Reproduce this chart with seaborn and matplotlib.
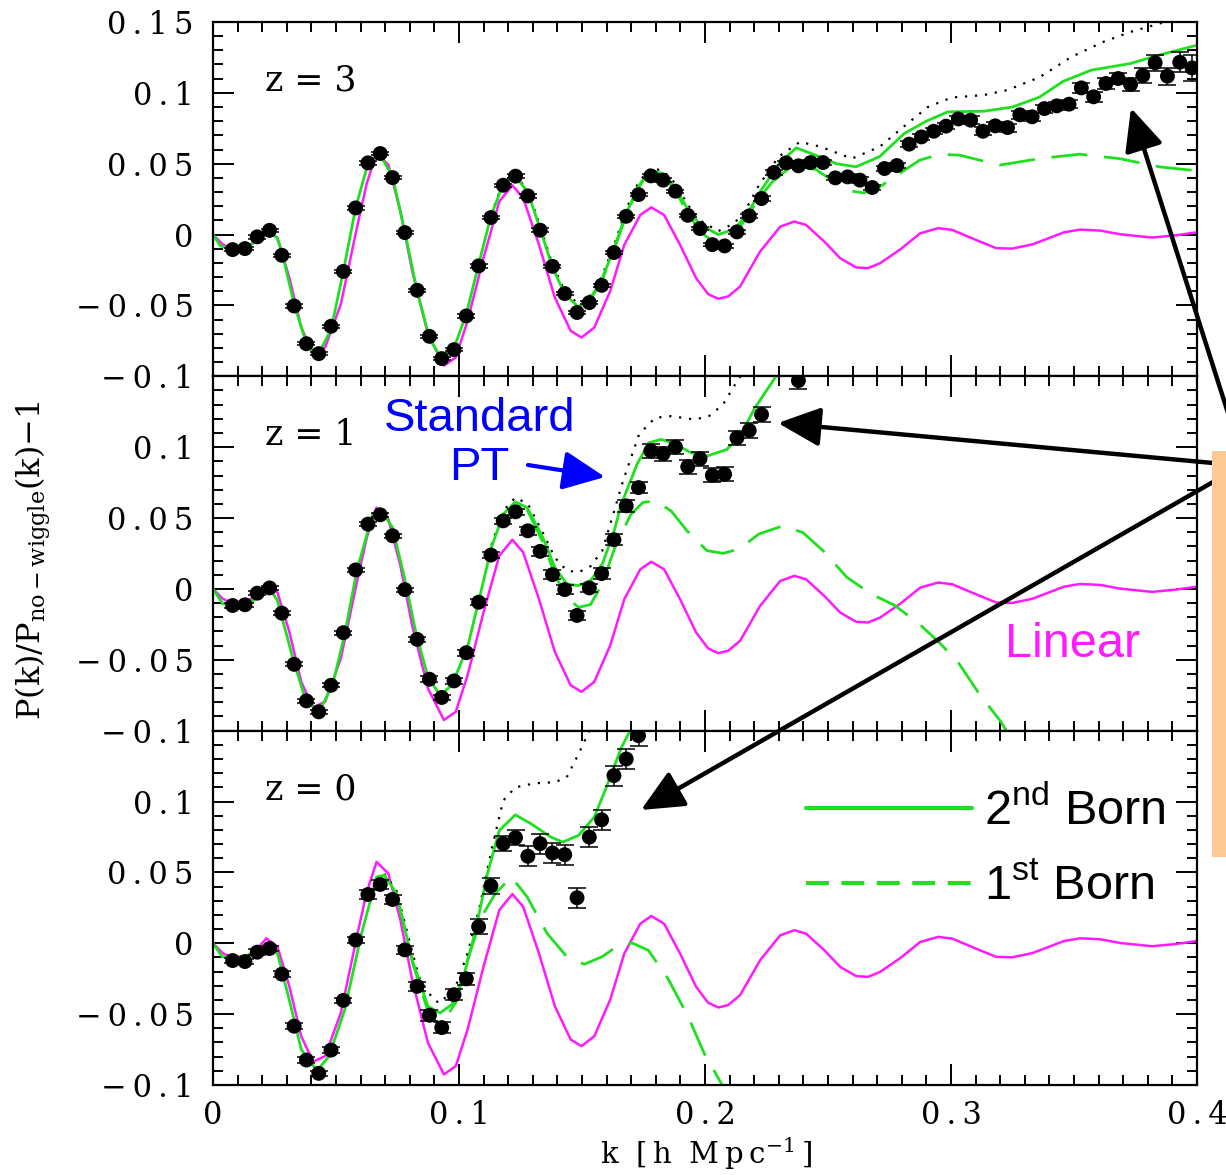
import matplotlib
matplotlib.use('Agg')
import matplotlib.pyplot as plt
from matplotlib.ticker import MultipleLocator, FuncFormatter
from matplotlib.patches import FancyArrowPatch, Rectangle
from matplotlib.lines import Line2D
import seaborn as sns

# k bins of the simulation points
k_data = [0.008, 0.013, 0.018, 0.023, 0.028, 0.033, 0.038, 0.043, 0.048, 0.053,
          0.058, 0.063, 0.068, 0.073, 0.078, 0.083, 0.088, 0.093, 0.098, 0.103,
          0.108, 0.113, 0.118, 0.123, 0.128, 0.133, 0.138, 0.143, 0.148, 0.153,
          0.158, 0.163, 0.168, 0.173, 0.178, 0.183, 0.188, 0.193, 0.198, 0.203,
          0.208, 0.213, 0.218, 0.223, 0.228, 0.233, 0.238, 0.243, 0.248, 0.253,
          0.258, 0.263, 0.268, 0.273, 0.278, 0.283, 0.288, 0.293, 0.298, 0.303,
          0.308, 0.313, 0.318, 0.323, 0.328, 0.333, 0.338, 0.343, 0.348, 0.353,
          0.358, 0.363, 0.368, 0.373, 0.378, 0.383, 0.388, 0.393, 0.398]

# z=3 points
y_z3 = [-0.0106, -0.0099, -0.0016, 0.003, -0.0146, -0.0504, -0.077, -0.084, -0.0647, -0.026,
        0.0188, 0.0506, 0.0572, 0.0402, 0.0014, -0.0393, -0.0718, -0.0875, -0.0812, -0.0574,
        -0.0221, 0.012, 0.0348, 0.0412, 0.0273, 0.0031, -0.0224, -0.0416, -0.055, -0.048,
        -0.0358, -0.0127, 0.0129, 0.0282, 0.0414, 0.0384, 0.0306, 0.0136, 0.0042, -0.0071,
        -0.008, 0.0019, 0.0132, 0.0254, 0.0438, 0.0506, 0.0485, 0.0508, 0.0508, 0.040,
        0.0407, 0.0384, 0.0332, 0.0466, 0.0487, 0.0638, 0.0689, 0.0729, 0.0765, 0.0816,
        0.0807, 0.0729, 0.0767, 0.0755, 0.0845, 0.0831, 0.0889, 0.0908, 0.092, 0.1035,
        0.0972, 0.1066, 0.1101, 0.1059, 0.1122, 0.1212, 0.1118, 0.1216, 0.1176]
e_z3 = [0.0012, 0.0012, 0.0012, 0.0012, 0.0012, 0.0012, 0.0012, 0.0012, 0.0012, 0.0012,
        0.0012, 0.0012, 0.0012, 0.0012, 0.0012, 0.0012, 0.0012, 0.0012, 0.0012, 0.0012,
        0.0012, 0.0012, 0.0012, 0.0012, 0.0012, 0.0012, 0.0012, 0.0012, 0.0012, 0.0012,
        0.0012, 0.0012, 0.0012, 0.0012, 0.0012, 0.0012, 0.0012, 0.0012, 0.0012, 0.0012,
        0.0016, 0.0016, 0.0016, 0.0016, 0.0016, 0.0016, 0.0016, 0.0016, 0.0016, 0.0016,
        0.002, 0.002, 0.002, 0.002, 0.002, 0.002, 0.002, 0.002, 0.002, 0.002,
        0.0028, 0.0028, 0.0028, 0.0028, 0.0028, 0.0028, 0.0028, 0.0028, 0.003,
        0.0035, 0.0035, 0.004, 0.004, 0.0045, 0.005, 0.0055, 0.006, 0.007, 0.009]

# z=1 points (nan = off the top of the panel)
y_z1 = [-0.0117, -0.0112, -0.003, 0.0007, -0.0171, -0.0532, -0.079, -0.0867, -0.068, -0.0309,
        0.0134, 0.0457, 0.0523, 0.0375, -0.0005, -0.0356, -0.0637, -0.0766, -0.0649, -0.045,
        -0.0094, 0.0239, 0.048, 0.0544, 0.041, 0.0265, 0.0101, -0.0005, -0.0187, 0.0007,
        0.0108, 0.0347, 0.0586, 0.0715, 0.0973, 0.0954, 0.1001, 0.0862, 0.0919, 0.0801,
        0.0809, 0.1066, 0.1118, 0.123, float('nan'), float('nan'), 0.147]
e_z1 = [0.0015, 0.0015, 0.0015, 0.0015, 0.0015, 0.0015, 0.0015, 0.0015, 0.0015, 0.0015,
        0.0015, 0.0015, 0.0015, 0.0015, 0.0015, 0.002, 0.002, 0.002, 0.002, 0.002,
        0.002, 0.002, 0.002, 0.002, 0.003, 0.003, 0.003, 0.003, 0.003, 0.003,
        0.004, 0.004, 0.004, 0.004, 0.005, 0.005, 0.005, 0.005, 0.005, 0.005,
        0.005, 0.005, 0.005, 0.005, 0.006, 0.006, 0.006]

# z=0 points
y_z0 = [-0.0122, -0.0129, -0.0063, -0.0037, -0.0218, -0.0585, -0.0824, -0.0918, -0.0754, -0.0403,
        0.0023, 0.0344, 0.0415, 0.0309, -0.0047, -0.0304, -0.0508, -0.0595, -0.0363, -0.0251,
        0.0117, 0.0405, 0.0703, 0.0745, 0.0614, 0.0703, 0.0637, 0.0625, 0.0321, 0.0749,
        0.0871, 0.1183, 0.130, 0.1465]
e_z0 = [0.002, 0.002, 0.002, 0.002, 0.002, 0.002, 0.002, 0.002, 0.002, 0.002,
        0.002, 0.003, 0.003, 0.003, 0.003, 0.003, 0.004, 0.004, 0.004, 0.004,
        0.0055, 0.0055, 0.0055, 0.0055, 0.007, 0.007, 0.007, 0.007, 0.007, 0.007,
        0.007, 0.007, 0.007, 0.007]

# linear theory (same at every z)
k_lin = [0, 0.004, 0.007, 0.0134, 0.018, 0.0217, 0.0262, 0.031, 0.0359, 0.0407,
         0.0456, 0.052, 0.0585, 0.0625, 0.0665, 0.0713, 0.0762, 0.081, 0.0874, 0.0939,
         0.0987, 0.1035, 0.11, 0.1164, 0.1217, 0.1261, 0.1325, 0.139, 0.1454, 0.1498,
         0.155, 0.1615, 0.1672, 0.1737, 0.1782, 0.1834, 0.1899, 0.1964, 0.2013, 0.2054,
         0.2094, 0.2143, 0.2224, 0.2306, 0.2363, 0.2411, 0.2485, 0.255, 0.2615, 0.2663,
         0.2712, 0.2793, 0.2875, 0.2948, 0.3005, 0.3102, 0.3184, 0.3249, 0.333, 0.346,
         0.3525, 0.3607, 0.3688, 0.3818, 0.3915, 0.4]
y_lin = [0, -0.007, -0.0094, -0.0094, -0.004, 0.0035, -0.0023, -0.030, -0.0656, -0.0836,
         -0.0796, -0.049, 0.0047, 0.036, 0.0574, 0.0492, 0.0164, -0.0258, -0.0703, -0.0925,
         -0.0867, -0.0609, -0.0164, 0.0234, 0.0347, 0.0258, -0.007, -0.0445, -0.0679, -0.0726,
         -0.0656, -0.0398, -0.0073, 0.0138, 0.0192, 0.0138, -0.0073, -0.0307, -0.042, -0.0453,
         -0.0437, -0.0366, -0.012, 0.0056, 0.0092, 0.0068, -0.0049, -0.0167, -0.0232, -0.0237,
         -0.0202, -0.0106, 0.0009, 0.0045, 0.0033, -0.0038, -0.0096, -0.0099, -0.007, 0.0016,
         0.0035, 0.0028, 0.0002, -0.0021, -0.0005, 0.0016]

# 2nd Born, z=3
k_b2_z3 = [0, 0.003, 0.008, 0.013, 0.018, 0.0225, 0.026, 0.028, 0.033, 0.038,
           0.0425, 0.048, 0.053, 0.058, 0.063, 0.0675, 0.073, 0.078, 0.083, 0.088,
           0.0925, 0.098, 0.103, 0.108, 0.113, 0.118, 0.1225, 0.128, 0.133, 0.138,
           0.143, 0.1485, 0.153, 0.158, 0.163, 0.168, 0.173, 0.1775, 0.183, 0.188,
           0.193, 0.198, 0.2055, 0.212, 0.217, 0.222, 0.23, 0.2371, 0.245, 0.2535,
           0.2614, 0.271, 0.281, 0.29, 0.2987, 0.3133, 0.325, 0.336, 0.3455, 0.357,
           0.373, 0.3845, 0.4]
y_b2_z3 = [0, -0.008, -0.0105, -0.0095, -0.004, 0.0015, -0.002, -0.012, -0.049, -0.077,
           -0.0855, -0.067, -0.026, 0.019, 0.050, 0.0575, 0.041, 0.002, -0.040, -0.073,
           -0.0865, -0.080, -0.056, -0.021, 0.013, 0.036, 0.042, 0.030, 0.004, -0.023,
           -0.042, -0.051, -0.046, -0.032, -0.010, 0.015, 0.034, 0.0454, 0.043, 0.033,
           0.018, 0.007, 0.0, 0.004, 0.014, 0.029, 0.050, 0.0612, 0.056, 0.050,
           0.0478, 0.055, 0.0713, 0.080, 0.0866, 0.087, 0.090, 0.097, 0.108, 0.116,
           0.1207, 0.1266, 0.1336]

# 1st Born, z=3 (coincides with 2nd Born below k~0.15)
k_b1_z3 = [0.153, 0.158, 0.163, 0.168, 0.173, 0.1775, 0.183, 0.188, 0.193, 0.198,
           0.203, 0.208, 0.213, 0.218, 0.2224, 0.2273, 0.235, 0.245, 0.2581, 0.2646,
           0.271, 0.279, 0.2873, 0.2955, 0.3036, 0.3198, 0.336, 0.3523, 0.3685, 0.3847, 0.4]
y_b1_z3 = [-0.047, -0.033, -0.011, 0.014, 0.033, 0.045, 0.042, 0.031, 0.015, 0.002,
           -0.0045, -0.004, 0.002, 0.015, 0.0266, 0.037, 0.048, 0.046, 0.031, 0.0294,
           0.0336, 0.043, 0.0525, 0.0567, 0.056, 0.049, 0.0536, 0.0567, 0.0536, 0.0478, 0.045]

# standard PT, z=3
k_pt_z3 = [0.113, 0.118, 0.1225, 0.128, 0.133, 0.138, 0.143, 0.1485, 0.153, 0.158,
           0.163, 0.168, 0.173, 0.178, 0.183, 0.188, 0.193, 0.198, 0.2054, 0.212,
           0.217, 0.222, 0.23, 0.2386, 0.247, 0.2597, 0.271, 0.2807, 0.2906, 0.3003,
           0.3133, 0.323, 0.336, 0.349, 0.362, 0.373, 0.385, 0.392]
y_pt_z3 = [0.014, 0.037, 0.043, 0.031, 0.006, -0.021, -0.040, -0.049, -0.044, -0.030,
           -0.008, 0.018, 0.037, 0.047, 0.045, 0.036, 0.021, 0.010, 0.0024, 0.008,
           0.019, 0.035, 0.055, 0.0654, 0.062, 0.0536, 0.0619, 0.076, 0.09, 0.0967,
           0.0984, 0.102, 0.111, 0.1254, 0.136, 0.143, 0.149, 0.153]

# 2nd Born, z=1
k_b2_z1 = [0, 0.004, 0.0101, 0.0166, 0.0227, 0.0262, 0.0327, 0.0375, 0.0432, 0.0488,
           0.0536, 0.0585, 0.0649, 0.0681, 0.073, 0.0778, 0.0826, 0.0874, 0.0923, 0.0971,
           0.1035, 0.1084, 0.1132, 0.118, 0.1229, 0.1277, 0.1341, 0.139, 0.1438, 0.1486,
           0.1535, 0.1583, 0.1631, 0.166, 0.1724, 0.1772, 0.1821, 0.187, 0.1943, 0.2008,
           0.2089, 0.2146, 0.2203, 0.2285, 0.23]
y_b2_z1 = [0, -0.0105, -0.0112, -0.008, 0.001, -0.008, -0.0504, -0.0773, -0.0867, -0.0668,
           -0.0316, 0.0129, 0.0527, 0.0562, 0.0434, 0.0082, -0.0316, -0.0621, -0.075, -0.068,
           -0.041, -0.0059, 0.0293, 0.0527, 0.0614, 0.0574, 0.0363, 0.0152, 0.0035, 0.0023,
           0.0059, 0.0176, 0.041, 0.0598, 0.088, 0.1031, 0.1055, 0.1031, 0.0961, 0.0937,
           0.0984, 0.109, 0.1277, 0.149, 0.153]

# 1st Born, z=1
k_b1_z1 = [0.1277, 0.1341, 0.139, 0.1438, 0.1486, 0.1535, 0.1583, 0.1634, 0.1699, 0.1748,
           0.1797, 0.1862, 0.1927, 0.2008, 0.2073, 0.2138, 0.2219, 0.2317, 0.2398, 0.248,
           0.2577, 0.2675, 0.2772, 0.287, 0.2951, 0.3033, 0.3114, 0.3203, 0.3225]
y_b1_z1 = [0.056, 0.033, 0.010, -0.006, -0.013, -0.011, 0.004, 0.0293, 0.0527, 0.061,
           0.0621, 0.0551, 0.041, 0.027, 0.0251, 0.0281, 0.0387, 0.0445, 0.0398, 0.027,
           0.0082, -0.0035, -0.0117, -0.0246, -0.0375, -0.0527, -0.0738, -0.0937, -0.1]

# standard PT, z=1
k_pt_z1 = [0.1132, 0.118, 0.1229, 0.128, 0.134, 0.139, 0.1438, 0.1486, 0.1535, 0.1583,
           0.1602, 0.1667, 0.1732, 0.1797, 0.1862, 0.1959, 0.2016, 0.2073, 0.2122, 0.216]
y_pt_z1 = [0.031, 0.055, 0.0645, 0.060, 0.040, 0.022, 0.013, 0.0117, 0.016, 0.027,
           0.038, 0.0762, 0.109, 0.1207, 0.1219, 0.1195, 0.1219, 0.13, 0.1441, 0.154]

# 2nd Born, z=0
k_b2_z0 = [0, 0.0037, 0.0101, 0.0166, 0.023, 0.0262, 0.031, 0.0359, 0.0423, 0.0472,
           0.0536, 0.0601, 0.0665, 0.0697, 0.0746, 0.081, 0.0874, 0.0923, 0.0971, 0.1019,
           0.1068, 0.1116, 0.1164, 0.1229, 0.1293, 0.1374, 0.1422, 0.1486, 0.155, 0.1599,
           0.166, 0.1696, 0.171]
y_b2_z0 = [0, -0.0094, -0.0105, -0.007, -0.003, -0.007, -0.0398, -0.075, -0.090, -0.0796,
           -0.0468, 0.0047, 0.0468, 0.048, 0.0351, -0.0117, -0.0445, -0.0492, -0.0433, -0.0234,
           0.0094, 0.0492, 0.0796, 0.0906, 0.0843, 0.0749, 0.0714, 0.0761, 0.089, 0.110,
           0.138, 0.15, 0.156]

# 1st Born, z=0
k_b1_z0 = [0.0746, 0.081, 0.0874, 0.0923, 0.0987, 0.1035, 0.1092, 0.1148, 0.1213, 0.1277,
           0.1358, 0.1438, 0.151, 0.1583, 0.1639, 0.1704, 0.177, 0.185, 0.1932, 0.1997,
           0.207, 0.209]
y_b1_z0 = [0.0351, -0.013, -0.048, -0.0585, -0.042, -0.0117, 0.0187, 0.0351, 0.0468, 0.0328,
           0.007, -0.0094, -0.0148, -0.0094, -0.0026, 0.0002, -0.005, -0.025, -0.0519, -0.0777,
           -0.1, -0.106]

# standard PT, z=0
k_pt_z0 = [0.0697, 0.0746, 0.081, 0.0842, 0.0898, 0.0923, 0.0987, 0.1035, 0.1084, 0.1132,
           0.118, 0.1229, 0.1309, 0.139, 0.1438, 0.1486, 0.1527, 0.154]
y_pt_z0 = [0.049, 0.037, -0.006, -0.026, -0.040, -0.0422, -0.0304, -0.007, 0.0258, 0.0656,
           0.1007, 0.110, 0.1129, 0.1136, 0.1171, 0.1335, 0.1487, 0.153]

panels = [
    ('z = 3', y_z3, e_z3, (k_b2_z3, y_b2_z3), (k_b1_z3, y_b1_z3), (k_pt_z3, y_pt_z3)),
    ('z = 1', y_z1, e_z1, (k_b2_z1, y_b2_z1), (k_b1_z1, y_b1_z1), (k_pt_z1, y_pt_z1)),
    ('z = 0', y_z0, e_z0, (k_b2_z0, y_b2_z0), (k_b1_z0, y_b1_z0), (k_pt_z0, y_pt_z0)),
]

zelena = '#1fe01f'
fialova = '#ff1aff'
oranzova = '#fdca96'

sns.set_style('ticks')
plt.rcParams['font.family'] = 'DejaVu Serif'
plt.rcParams['axes.linewidth'] = 1.6
for klic in ['text.color', 'axes.labelcolor', 'xtick.color', 'ytick.color', 'axes.edgecolor']:
    plt.rcParams[klic] = 'black'
sans = 'Liberation Sans'
ts = '\u2009'  # uzka mezera, at pismo vypada roztazene jako v originale

fig, axes = plt.subplots(3, 1, sharex=True, figsize=(12.26, 11.75), dpi=100)
fig.subplots_adjust(left=0.1737, right=0.9763, bottom=0.0766, top=0.9813, hspace=0)


def popisek(top):
    def f(v, pos):
        if abs(v) < 1e-9:
            return '0'
        if v > 0.14 and not top:
            return ''
        s = f'{v:g}'.replace('-', '\u2212')
        return ts.join(s)
    return f


for i, (ax, (zlab, yd, ed, b2, b1, pt)) in enumerate(zip(axes, panels)):
    kd = k_data[:len(yd)]
    sns.lineplot(x=k_lin, y=y_lin, ax=ax, color=fialova, lw=1.8, sort=False, estimator=None)
    sns.lineplot(x=b1[0], y=b1[1], ax=ax, color=zelena, lw=2.0, sort=False, estimator=None)
    ax.lines[-1].set_dashes([13, 6])
    sns.lineplot(x=pt[0], y=pt[1], ax=ax, color='black', lw=1.6, sort=False, estimator=None)
    ax.lines[-1].set_dashes([1, 3.5])
    sns.lineplot(x=b2[0], y=b2[1], ax=ax, color=zelena, lw=2.0, sort=False, estimator=None)
    ax.errorbar(kd, yd, yerr=ed, fmt='none', ecolor='black', elinewidth=1.1,
                capsize=6.5, capthick=1.1, zorder=4)
    sns.scatterplot(x=kd, y=yd, ax=ax, color='black', s=115, edgecolor='none', zorder=5)

    ax.set_xlim(0, 0.4)
    ax.set_ylim(-0.1, 0.15)
    ax.xaxis.set_major_locator(MultipleLocator(0.1))
    ax.xaxis.set_minor_locator(MultipleLocator(0.01))
    ax.yaxis.set_major_locator(MultipleLocator(0.05))
    ax.yaxis.set_minor_locator(MultipleLocator(0.01))
    ax.tick_params(which='both', direction='in', top=True, right=True, width=1.4,
                   labelsize=22)
    ax.tick_params(which='major', length=15)
    ax.tick_params(which='minor', length=7.5)
    ax.tick_params(axis='y', pad=14)
    ax.tick_params(axis='x', pad=11)
    ax.yaxis.set_major_formatter(FuncFormatter(popisek(i == 0)))
    ax.xaxis.set_major_formatter(FuncFormatter(popisek(True)))
    ax.set_xlabel('')
    ax.set_ylabel('')
    ax.text(0.053, 0.835, zlab, transform=ax.transAxes, fontsize=25, va='center')

ax1, ax2, ax3 = axes

ax2.set_ylabel('P(k)/P$_{\\mathregular{no-wiggle}}$(k)\u22121', fontsize=23)
ax2.yaxis.set_label_coords(-0.163, 0.48)
ax3.set_xlabel('k' + ts * 3 + '[' + ts + 'h' + ts * 3 + 'M' + ts + 'p' + ts + 'c'
               + '$^{\\mathregular{-1}}$' + ts + ']', fontsize=21)
ax3.xaxis.label.set_va('center')
ax3.xaxis.set_label_coords(0.501, -0.195)

ax2.text(0.271, 0.81, 'Standard\nPT', transform=ax2.transAxes, fontsize=34,
         family=sans, color='#0000ff', ha='center', va='center', linespacing=1.15)
ax2.text(0.805, 0.242, 'Linear', transform=ax2.transAxes, fontsize=35,
         family=sans, color=fialova, ha='left', va='center')

h2 = Line2D([], [], color=zelena, lw=3)
h1 = Line2D([], [], color=zelena, lw=3, dashes=[5.5, 3.0])
ax3.legend([h2, h1], ['2$^{\\mathregular{nd}}$ Born', '1$^{\\mathregular{st}}$ Born'],
           loc='upper left', bbox_to_anchor=(0.603, 0.84), frameon=False,
           prop={'family': sans, 'size': 35}, handlelength=3.4, handletextpad=0.25,
           labelspacing=0.62, borderpad=0, borderaxespad=0)

# orange box and arrows (figure pixels -> fraction)
W, H = 1226.0, 1175.0


def fp(x, y):
    return (x / W, 1 - y / H)


fig.add_artist(Rectangle(fp(1212, 857), 0.05, (857 - 451) / H, transform=fig.transFigure,
                         facecolor=oranzova, edgecolor='none', zorder=3))

for tail, tip in [((1262, 520), (1131, 108)), ((1213, 463), (778, 423)),
                  ((1213, 482), (641, 810))]:
    fig.add_artist(FancyArrowPatch(fp(*tail), fp(*tip), transform=fig.transFigure,
                                   arrowstyle='-|>,head_length=26,head_width=12',
                                   mutation_scale=1, lw=3.2, color='black',
                                   shrinkA=0, shrinkB=0, zorder=2))

fig.add_artist(FancyArrowPatch(fp(528, 465), fp(605, 477), transform=fig.transFigure,
                               arrowstyle='-|>,head_length=26,head_width=12',
                               mutation_scale=1, lw=3.0, color='#0000ff',
                               shrinkA=0, shrinkB=0, zorder=2))

fig.savefig('out.png', dpi=100)
